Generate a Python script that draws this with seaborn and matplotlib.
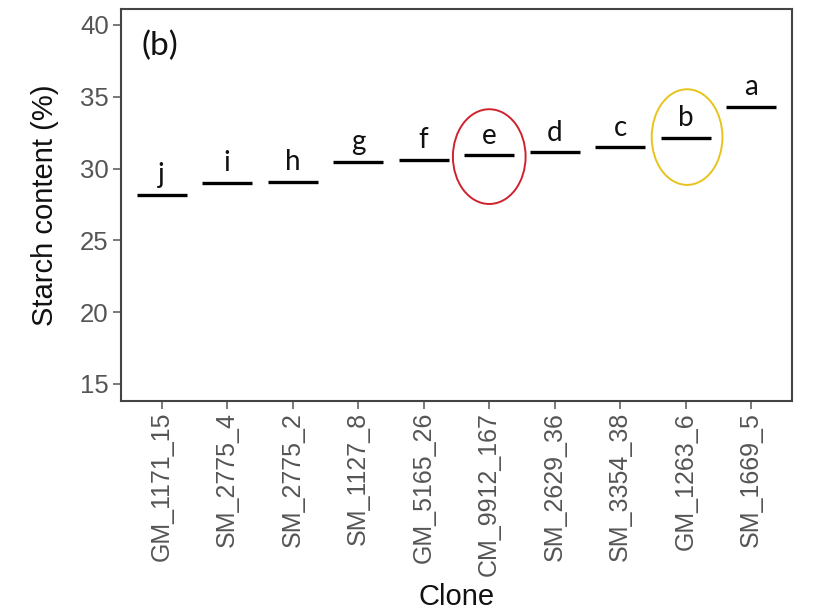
import pandas as pd
import seaborn as sns
import matplotlib.pyplot as plt
from matplotlib.patches import Ellipse

# values
clones = ['GM_1171_15', 'SM_2775_4', 'SM_2775_2', 'SM_1127_8', 'GM_5165_26',
          'CM_9912_167', 'SM_2629_36', 'SM_3354_38', 'GM_1263_6', 'SM_1669_5']
starch = [28.16, 29.0, 29.07, 30.46, 30.6, 30.93, 31.13, 31.5, 32.15, 34.31]
letters = ['j', 'i', 'h', 'g', 'f', 'e', 'd', 'c', 'b', 'a']
y_ticks = [15, 20, 25, 30, 35, 40]

df = pd.DataFrame({'Clone': clones, 'starch': starch, 'letter': letters})

sns.set_theme(style='white')
plt.rcParams['font.family'] = ['Liberation Sans', 'DejaVu Sans']

fig = plt.figure(figsize=(8.13, 6.11), dpi=100)
ax = fig.add_axes([0.149, 0.344, 0.825, 0.641])

# mean as a short horizontal bar
sns.scatterplot(data=df, x='Clone', y='starch', marker='_', s=1300,
                linewidth=2.4, color='black', ax=ax, legend=False)

for i, row in df.iterrows():
    ax.text(i, row.starch + 0.45, row.letter, ha='center', va='bottom',
            fontsize=20, family=['Lato', 'DejaVu Sans'], color='#111111')

# highlight rings
ax.add_patch(Ellipse((5.0, 30.83), 1.11, 6.6, fill=False, edgecolor='#d0222e', lw=1.4))
ax.add_patch(Ellipse((8.02, 32.19), 1.08, 6.66, fill=False, edgecolor='#e8c31c', lw=1.4))

ax.text(0.03, 0.905, '(b)', transform=ax.transAxes, ha='left', va='center',
        fontsize=24, family=['Lato', 'DejaVu Sans'], color='#111111')

ax.set_xlim(-0.62, 9.62)
ax.set_ylim(13.82, 41.1)
ax.set_yticks(y_ticks)
ax.set_xlabel('Clone', fontsize=21, color='#111111', va='center')
ax.set_ylabel('Starch content (%)', fontsize=21, color='#111111', va='center')
ax.xaxis.set_label_coords(0.5, -0.5)
ax.yaxis.set_label_coords(-0.113, 0.5)
ax.tick_params(axis='x', labelrotation=90, labelsize=18, colors='#555555',
               length=6, width=1.1, pad=2, bottom=True)
ax.tick_params(axis='y', labelsize=18.5, colors='#555555',
               length=6, width=1.1, pad=3, left=True)
for s in ax.spines.values():
    s.set_color('#444444')
    s.set_linewidth(1.5)

fig.savefig('out.png', dpi=100)
